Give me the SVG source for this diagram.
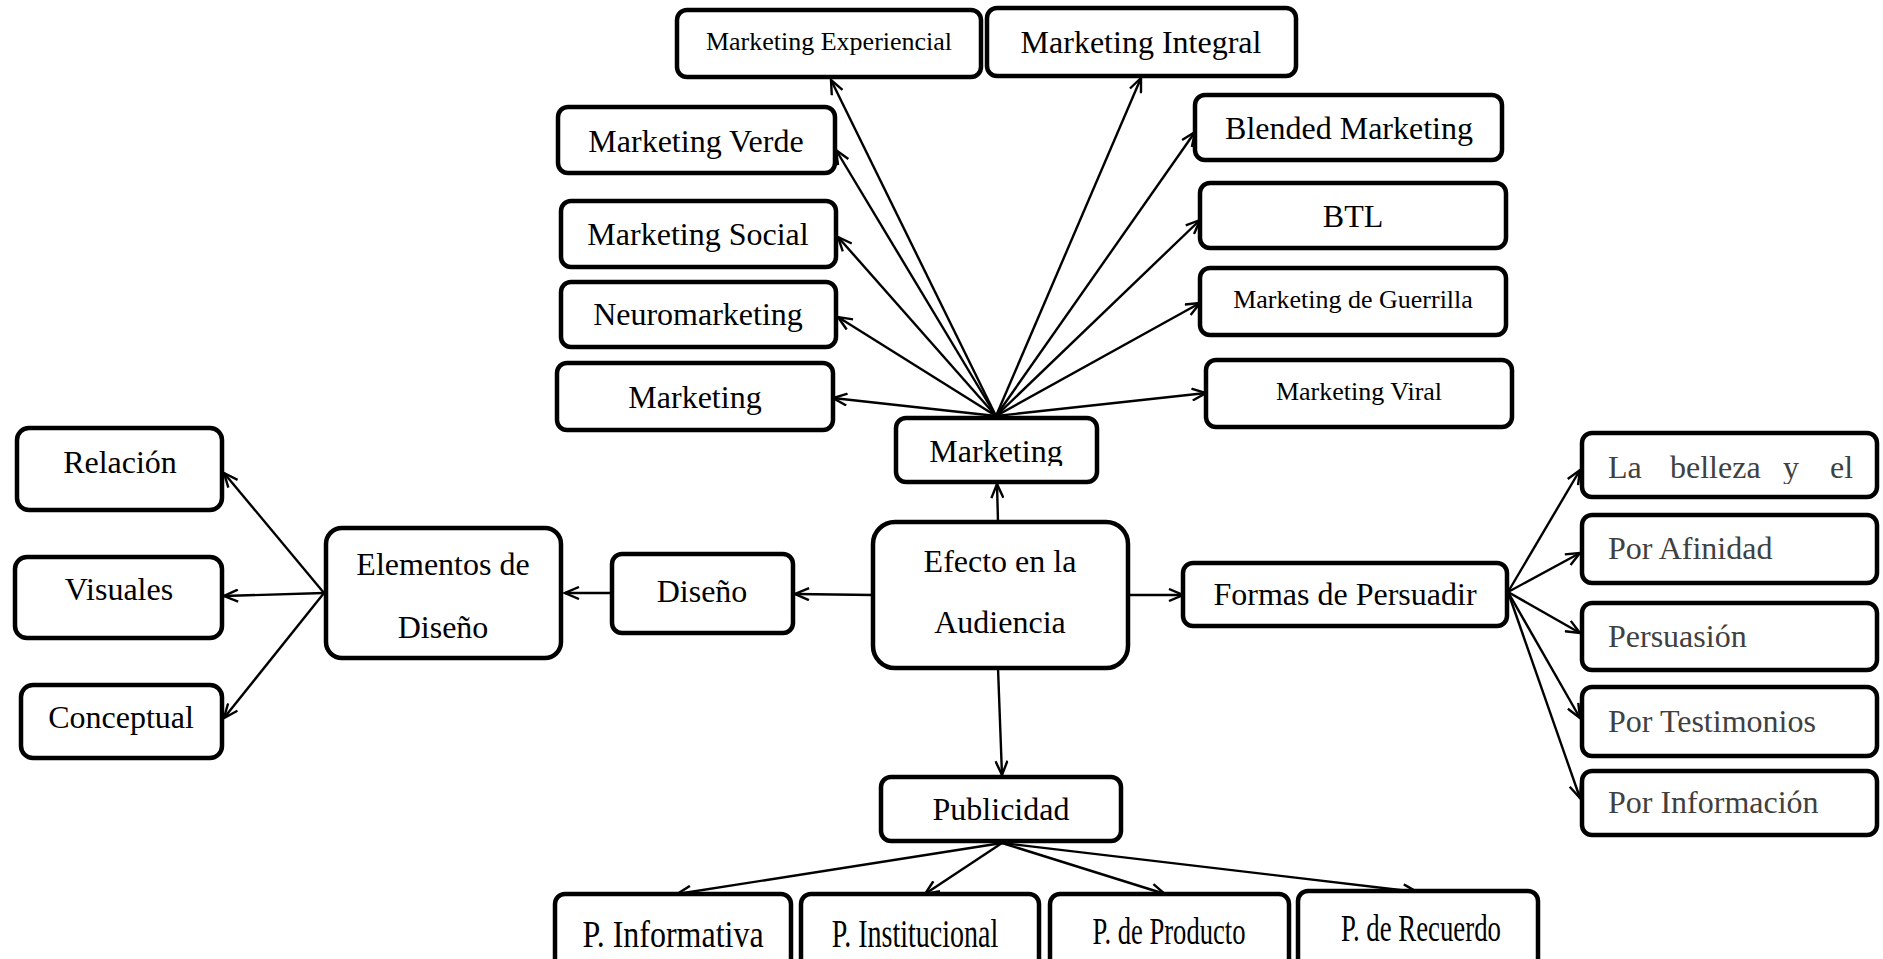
<svg xmlns="http://www.w3.org/2000/svg" width="1883" height="959" viewBox="0 0 1883 959">
  <style>
    .box { fill: #ffffff; stroke: #000000; stroke-width: 4.5; }
    .t { font-family: "Liberation Serif", "Times New Roman", serif; font-size: 32px; fill: #000000; text-anchor: middle; }
    .s { font-size: 26px; }
    .g { fill: #404040; text-anchor: start; }
    .edge { stroke: #000000; stroke-width: 2.4; fill: none; marker-end: url(#arrow); }
  </style>
  <defs>
    <marker id="arrow" viewBox="0 0 18 14" refX="16" refY="7" markerWidth="18" markerHeight="14" markerUnits="userSpaceOnUse" orient="auto">
      <path d="M2,1 L16,7 L2,13" fill="none" stroke="#000000" stroke-width="2.4"/>
    </marker>
    <clipPath id="clip-mk"><rect x="896" y="418" width="201" height="48"/></clipPath>
    <clipPath id="clip-lb"><rect x="1582" y="433" width="295" height="51"/></clipPath>
  </defs>
  <rect width="1883" height="959" fill="#ffffff"/>

  <g id="connectors">
    <!-- Marketing fan -->
    <line class="edge" x1="996" y1="416" x2="831" y2="80"/>
    <line class="edge" x1="996" y1="416" x2="1141" y2="78"/>
    <line class="edge" x1="996" y1="416" x2="836" y2="150"/>
    <line class="edge" x1="996" y1="416" x2="1195" y2="132"/>
    <line class="edge" x1="996" y1="416" x2="838" y2="237"/>
    <line class="edge" x1="996" y1="416" x2="1200" y2="220"/>
    <line class="edge" x1="996" y1="416" x2="838" y2="317"/>
    <line class="edge" x1="996" y1="416" x2="1200" y2="303"/>
    <line class="edge" x1="996" y1="416" x2="833" y2="398"/>
    <line class="edge" x1="996" y1="416" x2="1206" y2="393"/>
    <!-- from the central node -->
    <line class="edge" x1="998" y1="522" x2="997" y2="484"/>
    <line class="edge" x1="873" y1="595" x2="795" y2="594"/>
    <line class="edge" x1="1128" y1="595" x2="1183" y2="595"/>
    <line class="edge" x1="998" y1="668" x2="1002" y2="775"/>
    <!-- design branch -->
    <line class="edge" x1="612" y1="593" x2="565" y2="593"/>
    <line class="edge" x1="324" y1="593" x2="224" y2="473"/>
    <line class="edge" x1="324" y1="593" x2="224" y2="596"/>
    <line class="edge" x1="324" y1="593" x2="224" y2="718"/>
    <!-- persuasion branch -->
    <line class="edge" x1="1508" y1="592" x2="1580" y2="470"/>
    <line class="edge" x1="1508" y1="592" x2="1580" y2="553"/>
    <line class="edge" x1="1508" y1="592" x2="1580" y2="633"/>
    <line class="edge" x1="1508" y1="592" x2="1580" y2="718"/>
    <line class="edge" x1="1508" y1="592" x2="1580" y2="798"/>
    <!-- advertising branch -->
    <line class="edge" x1="1002" y1="843" x2="677" y2="894"/>
    <line class="edge" x1="1002" y1="843" x2="925" y2="894"/>
    <line class="edge" x1="1002" y1="843" x2="1165" y2="894"/>
    <line class="edge" x1="1002" y1="843" x2="1417" y2="892"/>
  </g>

  <!-- Marketing branch -->
  <g id="mk-experiencial"><rect class="box" x="677" y="10" width="304" height="67" rx="10"/><text class="t s" x="829" y="50">Marketing Experiencial</text></g>
  <g id="mk-integral"><rect class="box" x="987" y="8" width="309" height="68" rx="10"/><text class="t" x="1141" y="53">Marketing Integral</text></g>
  <g id="mk-verde"><rect class="box" x="558" y="107" width="277" height="66" rx="10"/><text class="t" x="696" y="152">Marketing Verde</text></g>
  <g id="mk-blended"><rect class="box" x="1195" y="95" width="307" height="65" rx="10"/><text class="t" x="1349" y="139">Blended Marketing</text></g>
  <g id="mk-social"><rect class="box" x="561" y="201" width="275" height="66" rx="10"/><text class="t" x="698" y="245">Marketing Social</text></g>
  <g id="mk-btl"><rect class="box" x="1200" y="183" width="306" height="65" rx="10"/><text class="t" x="1353" y="227">BTL</text></g>
  <g id="mk-neuro"><rect class="box" x="561" y="282" width="275" height="65" rx="10"/><text class="t" x="698" y="325">Neuromarketing</text></g>
  <g id="mk-guerrilla"><rect class="box" x="1200" y="268" width="306" height="67" rx="10"/><text class="t s" x="1353" y="308">Marketing de Guerrilla</text></g>
  <g id="mk-marketing"><rect class="box" x="557" y="363" width="276" height="67" rx="10"/><text class="t" x="695" y="408">Marketing</text></g>
  <g id="mk-viral"><rect class="box" x="1206" y="360" width="306" height="67" rx="10"/><text class="t s" x="1359" y="400">Marketing Viral</text></g>
  <g id="marketing"><rect class="box" x="896" y="418" width="201" height="64" rx="10"/><text class="t" x="996" y="462" clip-path="url(#clip-mk)">Marketing</text></g>

  <!-- Central node -->
  <g id="efecto"><rect class="box" x="873" y="522" width="255" height="146" rx="22"/><text class="t" x="1000" y="572">Efecto en la</text><text class="t" x="1000" y="633">Audiencia</text></g>

  <!-- Design branch -->
  <g id="diseno"><rect class="box" x="612" y="554" width="181" height="79" rx="10"/><text class="t" x="702" y="602">Diseño</text></g>
  <g id="elementos"><rect class="box" x="326" y="528" width="235" height="130" rx="16"/><text class="t" x="443" y="575">Elementos de</text><text class="t" x="443" y="638">Diseño</text></g>
  <g id="relacion"><rect class="box" x="17" y="428" width="205" height="82" rx="12"/><text class="t" x="120" y="473">Relación</text></g>
  <g id="visuales"><rect class="box" x="15" y="557" width="207" height="81" rx="12"/><text class="t" x="119" y="600">Visuales</text></g>
  <g id="conceptual"><rect class="box" x="21" y="685" width="201" height="73" rx="12"/><text class="t" x="121" y="728">Conceptual</text></g>

  <!-- Persuasion branch -->
  <g id="formas"><rect class="box" x="1183" y="563" width="324" height="63" rx="10"/><text class="t" x="1345" y="605">Formas de Persuadir</text></g>
  <g id="belleza"><rect class="box" x="1582" y="433" width="295" height="64" rx="10"/><text class="t g" y="478" clip-path="url(#clip-lb)"><tspan x="1608">La</tspan><tspan x="1670">belleza</tspan><tspan x="1783">y</tspan><tspan x="1830">el</tspan></text></g>
  <g id="afinidad"><rect class="box" x="1582" y="515" width="295" height="68" rx="10"/><text class="t g" x="1608" y="559">Por Afinidad</text></g>
  <g id="persuasion"><rect class="box" x="1582" y="603" width="295" height="67" rx="10"/><text class="t g" x="1608" y="647">Persuasión</text></g>
  <g id="testimonios"><rect class="box" x="1582" y="687" width="295" height="69" rx="10"/><text class="t g" x="1608" y="732">Por Testimonios</text></g>
  <g id="informacion"><rect class="box" x="1582" y="771" width="295" height="64" rx="10"/><text class="t g" x="1608" y="813">Por Información</text></g>

  <!-- Advertising branch: labels set in a tall, condensed cut -->
  <g id="publicidad"><rect class="box" x="881" y="777" width="240" height="64" rx="10"/><text class="t" x="1001" y="820">Publicidad</text></g>
  <g id="p-informativa"><rect class="box" x="555" y="894" width="236" height="90" rx="10"/><text class="t" transform="translate(673 947) scale(1 1.2)" x="0" y="0">P. Informativa</text></g>
  <g id="p-institucional"><rect class="box" x="801" y="894" width="238" height="90" rx="10"/><text class="t" transform="translate(915 947) scale(1 1.4)" x="0" y="0" style="font-size:28px">P. Institucional</text></g>
  <g id="p-producto"><rect class="box" x="1050" y="894" width="239" height="90" rx="10"/><text class="t" transform="translate(1169 944) scale(1 1.45)" x="0" y="0" style="font-size:26.6px">P. de Producto</text></g>
  <g id="p-recuerdo"><rect class="box" x="1298" y="891" width="240" height="90" rx="10"/><text class="t" transform="translate(1421 941) scale(1 1.45)" x="0" y="0" style="font-size:26.8px">P. de Recuerdo</text></g>
</svg>
